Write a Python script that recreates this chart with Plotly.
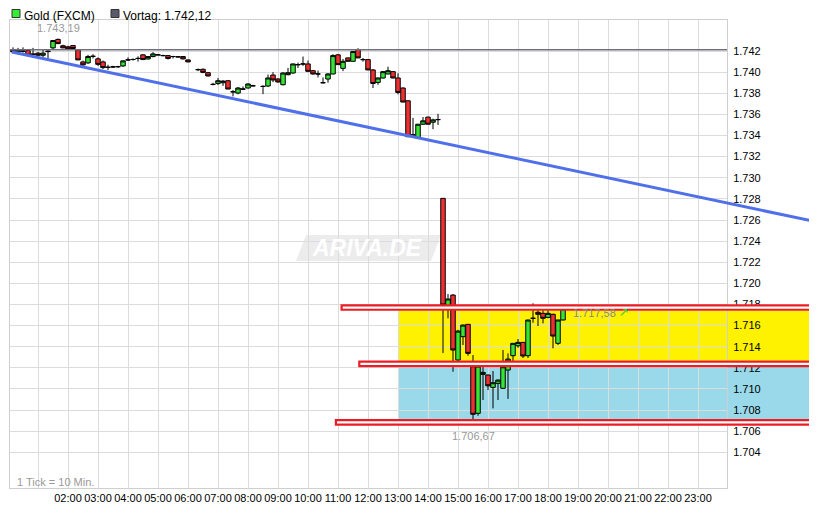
import plotly.graph_objects as go

DAY = "2012-12-07"

# ---- data: 10-minute candles (index k -> k*10 minutes after 00:00) ----
idx = list(range(1, 37)) + list(range(38, 50)) + list(range(51, 112))

opens = [1.74211, 1.74192, 1.74200, 1.74205, 1.74170, 1.74180, 1.74160, 1.74200, 1.74230, 1.74310,
         1.74250, 1.74240, 1.74252, 1.74211, 1.74097, 1.74088, 1.74150, 1.74126, 1.74097, 1.74046,
         1.74050, 1.74052, 1.74059, 1.74116, 1.74120, 1.74130, 1.74164, 1.74125, 1.74148, 1.74164,
         1.74157, 1.74157, 1.74148, 1.74145, 1.74148, 1.74116,
         1.74024, 1.74027, 1.73995, 1.73884, 1.73893, 1.73900, 1.73919, 1.73814, 1.73802, 1.73840,
         1.73850, 1.73871,
         1.73865, 1.73869, 1.73973, 1.73935, 1.73881, 1.73976, 1.73992, 1.74071, 1.74078, 1.74078,
         1.74014, 1.73983, 1.73900, 1.73935, 1.73983, 1.74164, 1.74036, 1.74135, 1.74103, 1.74214,
         1.74119, 1.74119, 1.74021, 1.73903, 1.73945, 1.73983, 1.74005, 1.73945, 1.73850, 1.73729,
         1.73405, 1.73374, 1.73507, 1.73574, 1.73526, 1.73551,
         1.72805, 1.71764, 1.71889, 1.71274, 1.71495, 1.71612, 1.71210, 1.70769, 1.71138, 1.71132,
         1.71015, 1.71053, 1.71006, 1.71179, 1.71315, 1.71409, 1.71441, 1.71315, 1.71669, 1.71726,
         1.71716, 1.71678, 1.71707, 1.71432, 1.71653]
highs = [1.74235, 1.74230, 1.74235, 1.74208, 1.74230, 1.74190, 1.74210, 1.74210, 1.74300, 1.74319,
         1.74260, 1.74250, 1.74255, 1.74211, 1.74110, 1.74164, 1.74170, 1.74140, 1.74110, 1.74070,
         1.74060, 1.74060, 1.74110, 1.74140, 1.74130, 1.74150, 1.74170, 1.74150, 1.74190, 1.74170,
         1.74165, 1.74160, 1.74155, 1.74150, 1.74150, 1.74120,
         1.74035, 1.74035, 1.74000, 1.73900, 1.73945, 1.73925, 1.73925, 1.73830, 1.73860, 1.73865,
         1.73895, 1.73880,
         1.73875, 1.73977, 1.74000, 1.73945, 1.74000, 1.74040, 1.74080, 1.74090, 1.74148, 1.74110,
         1.74020, 1.74015, 1.73950, 1.73990, 1.74170, 1.74170, 1.74125, 1.74140, 1.74200, 1.74227,
         1.74135, 1.74120, 1.74030, 1.73950, 1.74010, 1.74052, 1.74010, 1.73990, 1.73855, 1.73730,
         1.73567, 1.73510, 1.73575, 1.73580, 1.73560, 1.73605,
         1.72805, 1.71899, 1.71899, 1.71560, 1.71610, 1.71615, 1.71321, 1.71217, 1.71243, 1.71135,
         1.71170, 1.71090, 1.71369, 1.71337, 1.71435, 1.71473, 1.71445, 1.71655, 1.71811, 1.71779,
         1.71779, 1.71779, 1.71712, 1.71655, 1.71760]
lows = [1.74185, 1.74188, 1.74185, 1.74150, 1.74150, 1.74150, 1.74140, 1.74130, 1.74210, 1.74270,
        1.74228, 1.74210, 1.74220, 1.74116, 1.74060, 1.74078, 1.74130, 1.74060, 1.74030, 1.74020,
        1.74040, 1.74040, 1.74050, 1.74110, 1.74110, 1.74100, 1.74119, 1.74120, 1.74140, 1.74160,
        1.74150, 1.74120, 1.74130, 1.74140, 1.74120, 1.74095,
        1.74010, 1.73990, 1.73960, 1.73875, 1.73878, 1.73870, 1.73840, 1.73770, 1.73790, 1.73830,
        1.73845, 1.73865,
        1.73792, 1.73860, 1.73905, 1.73900, 1.73875, 1.73970, 1.73985, 1.74040, 1.74060, 1.74000,
        1.73975, 1.73950, 1.73895, 1.73900, 1.73980, 1.74071, 1.74010, 1.74100, 1.74100, 1.74135,
        1.74100, 1.74021, 1.73850, 1.73880, 1.73940, 1.73980, 1.73940, 1.73790, 1.73715, 1.73385,
        1.73377, 1.73370, 1.73500, 1.73505, 1.73460, 1.73500,
        1.71340, 1.71669, 1.71163, 1.71260, 1.71416, 1.71314, 1.70667, 1.70746, 1.70895, 1.70990,
        1.70816, 1.70895, 1.71000, 1.70906, 1.71227, 1.71390, 1.71293, 1.71293, 1.71627, 1.71596,
        1.71621, 1.71670, 1.71385, 1.71416, 1.71650]
closes = [1.74192, 1.74210, 1.74200, 1.74160, 1.74170, 1.74160, 1.74180, 1.74195, 1.74300, 1.74270,
          1.74230, 1.74220, 1.74224, 1.74116, 1.74069, 1.74148, 1.74150, 1.74074, 1.74043, 1.74046,
          1.74050, 1.74052, 1.74107, 1.74116, 1.74120, 1.74130, 1.74119, 1.74148, 1.74173, 1.74164,
          1.74157, 1.74130, 1.74148, 1.74145, 1.74126, 1.74097,
          1.74024, 1.73998, 1.73964, 1.73884, 1.73919, 1.73915, 1.73840, 1.73814, 1.73850, 1.73840,
          1.73888, 1.73871,
          1.73865, 1.73945, 1.73926, 1.73907, 1.73992, 1.73995, 1.74078, 1.74071, 1.74078, 1.74008,
          1.73983, 1.73983, 1.73900, 1.73983, 1.74157, 1.74071, 1.74103, 1.74103, 1.74195, 1.74135,
          1.74119, 1.74021, 1.73893, 1.73945, 1.74005, 1.74014, 1.73945, 1.73808, 1.73717, 1.73389,
          1.73405, 1.73507, 1.73539, 1.73507, 1.73548, 1.73551,
          1.71795, 1.71852, 1.71369, 1.71548, 1.71605, 1.71337, 1.70760, 1.71217, 1.71157, 1.71030,
          1.71059, 1.71084, 1.71210, 1.71283, 1.71432, 1.71441, 1.71312, 1.71653, 1.71669, 1.71707,
          1.71669, 1.71716, 1.71501, 1.71653, 1.71758]

prev_close = 1.74212          # Vortag
day_high = 1.74319
day_high_k = 10
day_low = 1.70667
day_low_k = 93
last_price = 1.71758

# trend line (time in hours, price)
trend_hours = [8 / 60, 26 + 58 / 60]
trend_prices = [1.74191, 1.72581]

# marked levels (thin red boxes) with their start times (hours)
level_prices = [1.71771, 1.71238, 1.70683]
level_start = [11.12, 11.71, 10.93]
level_half = 0.00021
# coloured zones [low, high], starting 13:00
zone_start = 13.0
yellow_zone = [1.71267, 1.71741]
blue_zone = [1.70712, 1.71210]

y_ticks = [1.704 + 0.002 * i for i in range(20)]
y_labels = ["1.704", "1.706", "1.708", "1.710", "1.712", "1.714", "1.716", "1.718", "1.720", "1.722",
            "1.724", "1.726", "1.728", "1.730", "1.732", "1.734", "1.736", "1.738", "1.740", "1.742"]
x_hours = list(range(1, 24))
x_labels = [""] + [f"{h:02d}:00" for h in range(2, 24)]

# ---- layout geometry (page has an 8px body margin) ----
OFF = 8
W, H = 817 - OFF, 527 - OFF
PL, PR, PT, PB = 10, 727, 20, 488          # plot area in page pixels
ML, MT = PL - OFF, PT - OFF
MR, MB = W - (PR - OFF), H - (PB - OFF)
PW, PH = PR - PL, PB - PT
X0, X1 = 4 / 60, 23 + 58 / 60
Y0, Y1 = 1.70062, 1.74494


def hstr(h):
    m = int(round(h * 60))
    if m >= 24 * 60:
        return f"2012-12-08 {(m - 1440) // 60:02d}:{m % 60:02d}"
    return f"{DAY} {m // 60:02d}:{m % 60:02d}"


def xp(h):  # hours -> paper
    return (h - X0) / (X1 - X0)


def px(x):  # page pixel -> paper
    return (x - PL) / PW


def py(y):
    return (PB - y) / PH


times = [hstr(k / 6) for k in idx]

GREEN = "#36e436"
RED = "#f03030"
FONT = "Liberation Sans, Arial, sans-serif"

fig = go.Figure()
fig.add_trace(go.Candlestick(
    x=times, open=opens, high=highs, low=lows, close=closes,
    increasing=dict(fillcolor=GREEN, line=dict(color="black", width=1)),
    decreasing=dict(fillcolor=RED, line=dict(color="black", width=1)),
    whiskerwidth=0, hoverinfo="skip", showlegend=False,
))

shapes = []
shapes.append(dict(type="rect", xref="paper", yref="y", x0=xp(zone_start), x1=px(825),
                   y0=yellow_zone[0], y1=yellow_zone[1], fillcolor="#fff200", line=dict(width=0),
                   layer="below"))
shapes.append(dict(type="rect", xref="paper", yref="y", x0=xp(zone_start), x1=px(825),
                   y0=blue_zone[0], y1=blue_zone[1], fillcolor="#99d9ea", line=dict(width=0),
                   layer="below"))
shapes.append(dict(type="path", xref="paper", yref="paper",
                   path=f"M {px(306)} {py(235)} L {px(441)} {py(235)} L {px(431)} {py(261)} L {px(296)} {py(261)} Z",
                   fillcolor="#ececec", line=dict(width=0), layer="below"))
shapes.append(dict(type="line", xref="paper", yref="y", x0=0, x1=1, y0=prev_close, y1=prev_close,
                   line=dict(color="#6e6e7c", width=1.5)))
for p, s in zip(level_prices, level_start):
    shapes.append(dict(type="rect", xref="paper", yref="y", x0=xp(s), x1=px(825),
                       y0=p - level_half, y1=p + level_half, fillcolor="white",
                       line=dict(color="#ed1c24", width=2.2)))
shapes.append(dict(type="line", xref="paper", yref="y", x0=xp(trend_hours[0]), x1=xp(trend_hours[1]),
                   y0=trend_prices[0], y1=trend_prices[1], line=dict(color="#5070ea", width=3)))
# legend squares
shapes.append(dict(type="rect", xref="paper", yref="paper", x0=px(12), x1=px(20), y0=py(17.5), y1=py(9.5),
                   fillcolor="#33ee33", line=dict(color="#333", width=1)))
shapes.append(dict(type="rect", xref="paper", yref="paper", x0=px(111), x1=px(119), y0=py(17.5), y1=py(9.5),
                   fillcolor="#5a5a6a", line=dict(color="#333", width=1)))

annotations = [
    dict(xref="paper", yref="paper", x=px(23), y=py(8), text="Gold (FXCM)", showarrow=False,
         xanchor="left", yanchor="top", borderpad=0, font=dict(family=FONT, size=12, color="black")),
    dict(xref="paper", yref="paper", x=px(122), y=py(8), text="Vortag: 1.742,12",
         showarrow=False, xanchor="left", yanchor="top", borderpad=0,
         font=dict(family=FONT, size=12, color="black")),
    dict(xref="x", yref="y", x=hstr(day_high_k / 6), y=day_high, text="1.743,19", showarrow=False,
         xanchor="center", yanchor="bottom", yshift=2, font=dict(family=FONT, size=11, color="#999999")),
    dict(xref="x", yref="y", x=hstr(day_low_k / 6), y=day_low, text="1.706,67", showarrow=False,
         xanchor="center", yanchor="top", yshift=-4, font=dict(family=FONT, size=11, color="#999999")),
    dict(xref="x", yref="y", x=times[-1], y=last_price, text="1.717,58", showarrow=False,
         xanchor="left", xshift=8, yshift=-4, yanchor="middle", font=dict(family=FONT, size=11, color="#888888")),
    dict(xref="x", yref="y", x=times[-1], y=last_price, text="↗", showarrow=False,
         xanchor="left", xshift=54, yshift=-3, yanchor="middle", font=dict(family="DejaVu Sans", size=12, color="#33cc33")),
    dict(xref="paper", yref="paper", x=px(15), y=py(482), text="1 Tick = 10 Min.", showarrow=False,
         xanchor="left", yanchor="middle", font=dict(family=FONT, size=11, color="#999999")),
    dict(xref="paper", yref="paper", x=px(367), y=py(248), text="<b><i>ARIVA.DE</i></b>", showarrow=False,
         xanchor="center", yanchor="middle", font=dict(family=FONT, size=23, color="white")),
]

fig.update_layout(
    width=W, height=H,
    margin=dict(l=ML, r=MR, t=MT, b=MB, pad=0),
    paper_bgcolor="white", plot_bgcolor="white",
    shapes=shapes, annotations=annotations,
    showlegend=False, boxgap=0.1, boxgroupgap=0,
    font=dict(family=FONT, size=11, color="black"),
    xaxis=dict(type="date", range=[hstr(X0), hstr(X1)],
               tickvals=[hstr(h) for h in x_hours], ticktext=x_labels, tickangle=0,
               showgrid=True, gridcolor="#dcdcdc", gridwidth=1,
               showline=True, linecolor="#cfcfcf", linewidth=1, mirror=True,
               ticks="", rangeslider=dict(visible=False), zeroline=False,
               tickfont=dict(family=FONT, size=11, color="black")),
    yaxis=dict(side="right", range=[Y0, Y1], tickvals=y_ticks, ticktext=y_labels,
               showgrid=True, gridcolor="#dcdcdc", gridwidth=1,
               showline=True, linecolor="#cfcfcf", linewidth=1, mirror=True,
               ticks="", zeroline=False, ticklabelstandoff=3,
               tickfont=dict(family=FONT, size=11, color="black")),
)

fig.write_html("out.html")
